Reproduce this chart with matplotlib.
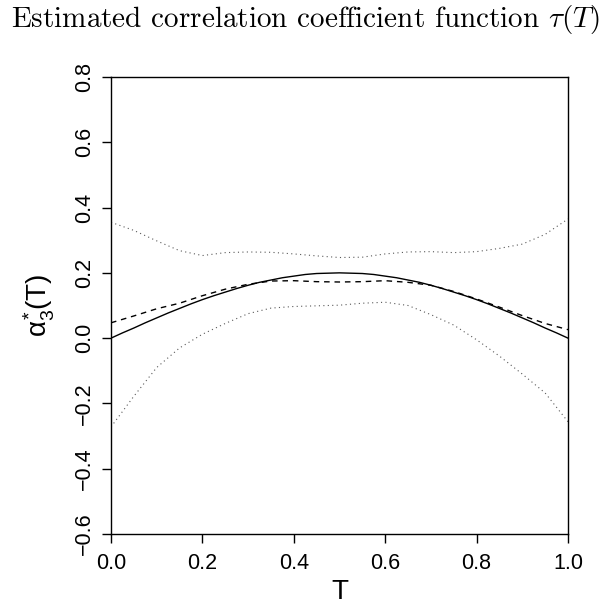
# -*- coding: utf-8 -*-
"""
Estimated correlation coefficient function tau(T).

Solid: true alpha*_3(T), dashed: estimate, dotted: pointwise bands.
"""

import matplotlib

matplotlib.use("Agg")

import matplotlib.pyplot as plt
import numpy as np


# =============================================================================
# Data
# =============================================================================

T_TRUE = np.linspace(0.0, 1.0, 41)
ALPHA_TRUE = [
    0.000, 0.016, 0.031, 0.047, 0.062, 0.077, 0.091, 0.105,
    0.118, 0.130, 0.141, 0.152, 0.162, 0.171, 0.178, 0.185,
    0.190, 0.195, 0.198, 0.199, 0.200, 0.199, 0.198, 0.195,
    0.190, 0.185, 0.178, 0.171, 0.162, 0.152, 0.141, 0.130,
    0.118, 0.105, 0.091, 0.077, 0.062, 0.047, 0.031, 0.016,
    0.000,
]

T_EST = np.linspace(0.0, 1.0, 21)
ALPHA_EST = [
    0.047, 0.068, 0.090, 0.107, 0.130, 0.150, 0.165, 0.175,
    0.176, 0.173, 0.172, 0.173, 0.176, 0.171, 0.162, 0.143,
    0.120, 0.095, 0.069, 0.045, 0.026,
]
BAND_UPPER = [
    0.355, 0.330, 0.298, 0.268, 0.253, 0.262, 0.264, 0.263,
    0.258, 0.252, 0.247, 0.248, 0.258, 0.264, 0.265, 0.262,
    0.265, 0.275, 0.288, 0.318, 0.365,
]
BAND_LOWER = [
    -0.272, -0.178, -0.090, -0.030, 0.012, 0.045, 0.075, 0.092,
    0.097, 0.099, 0.101, 0.107, 0.110, 0.100, 0.072, 0.040,
    -0.005, -0.055, -0.110, -0.168, -0.256,
]

X_TICKS = [0.0, 0.2, 0.4, 0.6, 0.8, 1.0]
Y_TICKS = [-0.6, -0.4, -0.2, 0.0, 0.2, 0.4, 0.6, 0.8]

TITLE = r"Estimated correlation coefficient function $\tau(T)$"


# =============================================================================
# Main
# =============================================================================

def main():
    plt.rcParams.update(
        {
            "font.family": "sans-serif",
            "font.sans-serif": ["Liberation Sans", "DejaVu Sans"],
            "mathtext.fontset": "custom",
            "mathtext.rm": "Liberation Sans",
            "mathtext.it": "Liberation Sans",
            "mathtext.bf": "Liberation Sans:bold",
            "axes.linewidth": 1.0,
        }
    )

    fig = plt.figure(figsize=(6.07, 6.06), dpi=100)
    ax = fig.add_axes([111 / 607, 72 / 606, 457 / 607, 457 / 606])

    ax.plot(T_TRUE, ALPHA_TRUE, color="black", linewidth=1.0)
    ax.plot(T_EST, ALPHA_EST, color="black", linewidth=1.0,
            linestyle=(0, (4, 3.5)))
    ax.plot(T_EST, BAND_UPPER, color="0.35", linewidth=0.8,
            linestyle=(0, (1, 3)))
    ax.plot(T_EST, BAND_LOWER, color="0.35", linewidth=0.8,
            linestyle=(0, (1, 3)))

    ax.set_xlim(0.0, 1.0)
    ax.set_ylim(-0.6, 0.8)
    ax.set_xticks(X_TICKS)
    ax.set_yticks(Y_TICKS)
    ax.set_xticklabels([f"{v:.1f}" for v in X_TICKS])
    ax.set_yticklabels([f"{v:.1f}".replace("-", "\u2212") for v in Y_TICKS],
                       rotation=90, va="center")

    ax.tick_params(axis="both", direction="out", length=6.5, width=1.0,
                   labelsize=15.5)
    ax.tick_params(axis="x", pad=7)
    ax.tick_params(axis="y", pad=5)

    ax.set_xlabel("T", fontsize=20, labelpad=4)
    ax.set_ylabel(r"$\alpha_3^{*}(T)$", fontsize=20, labelpad=12)

    fig.text(0.503, 0.995, TITLE, ha="center", va="top", fontsize=21,
             family="cmr10", math_fontfamily="cm")

    fig.savefig("out.png", dpi=100)
    plt.close(fig)


if __name__ == "__main__":
    main()
